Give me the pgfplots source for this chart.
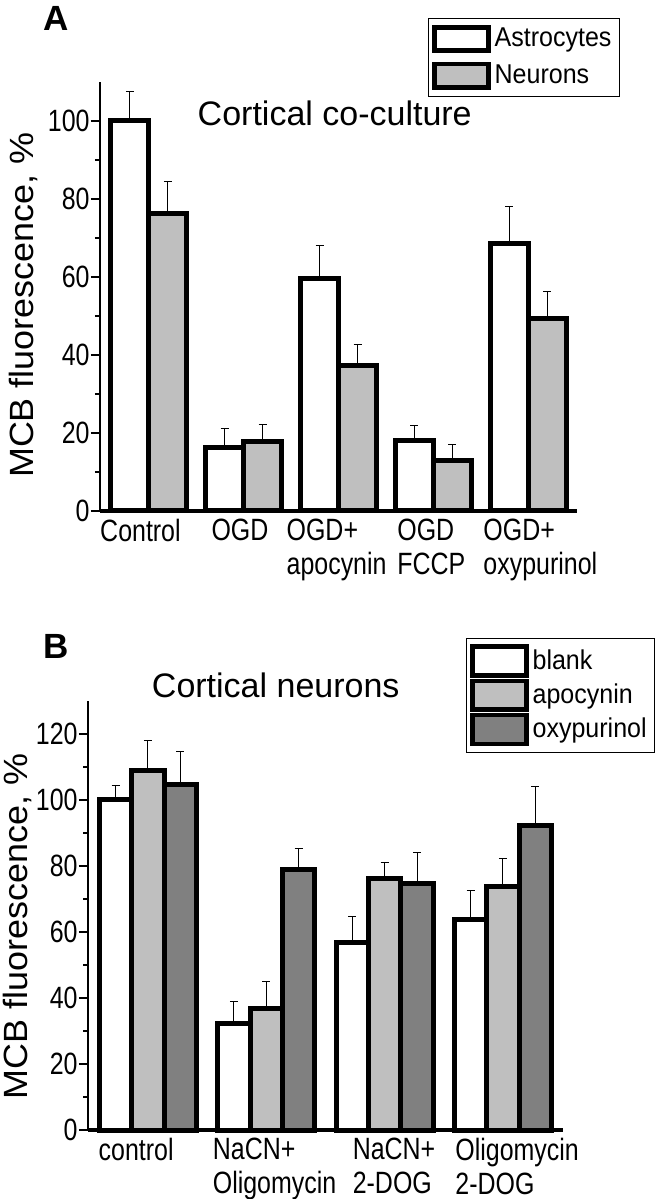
\documentclass[border=0pt]{standalone}
\usepackage{fontspec}
\setmainfont{Liberation Sans}
\newfontfamily\narrowfont[FakeStretch=0.81]{Liberation Sans}
\newfontfamily\legfont[FakeStretch=0.92]{Liberation Sans}
\newfontfamily\widefont[FakeStretch=1.07]{Liberation Sans}
\usepackage{pgfplots}
\pgfplotsset{compat=1.18}
\definecolor{lgray}{HTML}{BFBFBF}
\definecolor{dgray}{HTML}{808080}

\pgfplotsset{
  panel/.style={
    scale only axis, ybar=0pt, clip=false,
    axis x line=bottom, axis y line=left,
    x axis line style={-, line width=2pt},
    y axis line style={-, line width=1pt},
    xtick style={draw=none}, major x tick style={draw=none},
    tick align=outside, major tick length=4.5pt, minor tick length=2.5pt,
    ytick style={line width=0.8pt, black},
    minor y tick num=1,
    /pgf/number format/assume math mode=true,
    yticklabel style={font=\narrowfont\fontsize{15.4}{16}\selectfont, inner sep=0.5pt},
    xticklabel style={font=\narrowfont\fontsize{15.4}{17}\selectfont, align=left, anchor=north, inner sep=1pt, yshift=1.5pt},
    ylabel style={font=\widefont\fontsize{16.8}{20}\selectfont, anchor=center},
    legend style={draw=black, line width=0.5pt, anchor=north east,
      font=\legfont\fontsize{13.6}{15}\selectfont, inner sep=2pt, legend cell align=left},
    every axis plot/.append style={draw=black, line width=2.5pt,
      error bars/y dir=plus, error bars/y explicit,
      error bars/error bar style={line width=0.5pt, black, solid},
      error bars/error mark options={rotate=90, mark size=2pt, line width=0.5pt, black}},
  }
}

\begin{document}
\begin{tikzpicture}
\useasboundingbox (0,0) rectangle (328pt,599.5pt);

% panel A
\begin{axis}[panel, at={(50pt,344pt)}, anchor=south west,
  width=238.5pt, height=214.5pt,
  xmin=-0.517, xmax=4.517, ymin=0, ymax=110,
  ytick={0,20,...,100}, bar width=19pt,
  xtick={-0.09,0.96,1.98,2.98,4.13},
  xticklabels={Control,OGD,OGD+\\apocynin,OGD\\FCCP,OGD+\\oxypurinol},
  ylabel={MCB fluorescence, \%},
  ylabel style={at={(axis description cs:-0.16,0.48)}},
  legend image code/.code={\draw[#1, line width=2.2pt] (0pt,-5.8pt) rectangle (27pt,5.8pt);},
  legend style={at={(1.09,1.15)}, row sep=3.5pt, inner ysep=3pt}]
\addplot[fill=white] coordinates {(0,100) +- (0,7.5) (1,16.2) +- (0,5.0) (2,59.7) +- (0,8.3) (3,18.0) +- (0,4.0) (4,68.5) +- (0,9.5)};
\addplot[fill=lgray] coordinates {(0,76.3) +- (0,8.2) (1,17.7) +- (0,4.6) (2,37.3) +- (0,5.5) (3,12.9) +- (0,4.2) (4,49.3) +- (0,6.9)};
\legend{Astrocytes,Neurons}
\node[font=\fontsize{17}{20}\selectfont] at (axis cs:1.96,101.9) {Cortical co-culture};
\end{axis}
\node[font=\fontsize{17.5}{20}\bfseries] at (28.25pt,590.25pt) {A};

% panel B
\begin{axis}[panel, at={(44pt,34.5pt)}, anchor=south west,
  width=237.5pt, height=214.5pt,
  xmin=-0.507, xmax=3.508, ymin=0, ymax=130,
  ytick={0,20,...,120}, bar width=16.2pt,
  xtick={-0.10,1.07,2.08,3.12},
  xticklabels={control,NaCN+\\Oligomycin,NaCN+\\2-DOG,Oligomycin\\2-DOG},
  ylabel={MCB fluorescence, \%},
  ylabel style={at={(axis description cs:-0.148,0.474)}},
  legend image code/.code={\draw[#1, line width=2.2pt] (0pt,-7.2pt) rectangle (27pt,7.2pt);},
  legend style={at={(1.194,1.147)}, row sep=0.5pt, inner ysep=3pt}]
\addplot[fill=white] coordinates {(0,100.3) +- (0,4.0) (1,32.4) +- (0,6.4) (2,56.8) +- (0,8.0) (3,63.7) +- (0,8.9)};
\addplot[fill=lgray] coordinates {(0,109.0) +- (0,8.9) (1,36.8) +- (0,8.1) (2,76.2) +- (0,4.9) (3,73.7) +- (0,8.5)};
\addplot[fill=dgray] coordinates {(0,104.7) +- (0,10.0) (1,78.9) +- (0,6.5) (2,74.8) +- (0,9.2) (3,92.4) +- (0,11.6)};
\legend{blank,apocynin,oxypurinol}
\node[font=\fontsize{17}{20}\selectfont] at (axis cs:1.08,134.7) {Cortical neurons};
\end{axis}
\node[font=\fontsize{17.5}{20}\bfseries] at (28.25pt,276.25pt) {B};
\end{tikzpicture}
\end{document}
